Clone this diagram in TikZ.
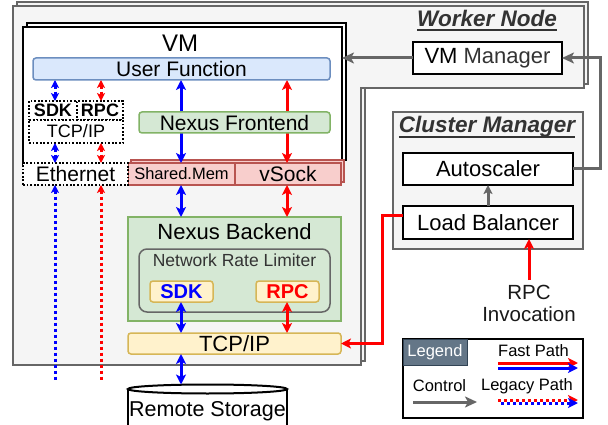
\documentclass[tikz,border=0pt]{standalone}
\usepackage{fontspec}
\setmainfont{Liberation Sans}
\usetikzlibrary{arrows.meta}
\definecolor{wfill}{HTML}{F5F5F5}
\definecolor{wline}{HTML}{666666}
\definecolor{dgray}{HTML}{333333}
\definecolor{ufill}{HTML}{DAE8FC}
\definecolor{uline}{HTML}{6C8EBF}
\definecolor{gfill}{HTML}{D5E8D4}
\definecolor{gline}{HTML}{82B366}
\definecolor{rfill}{HTML}{F8CECC}
\definecolor{rline}{HTML}{B85450}
\definecolor{yfill}{HTML}{FFF2CC}
\definecolor{yline}{HTML}{D6B656}
\definecolor{lgfill}{HTML}{647687}
\definecolor{lgline}{HTML}{314354}
\definecolor{fblue}{HTML}{0000FF}
\definecolor{fred}{HTML}{FF0000}
\newcommand{\fsz}[1]{\fontsize{#1}{#1}\selectfont}
\tikzset{
  base/.style={inner sep=0pt, outer sep=0pt, align=center},
  plainbox/.style={base, draw=black, line width=2pt, fill=white},
  ufbox/.style={base, draw=uline, fill=ufill, line width=1.5pt, rounded corners=3pt},
  gbox/.style={base, draw=gline, fill=gfill, line width=1.5pt, rounded corners=3pt},
  ybox/.style={base, draw=yline, fill=yfill, line width=1.5pt, rounded corners=3pt},
  rbox/.style={base, draw=rline, fill=rfill, line width=1.5pt},
  dotbox/.style={base, draw=black, fill=white, line width=1.8pt, dash pattern=on 1.8pt off 1.8pt},
  graybox/.style={base, draw=wline, fill=wfill, line width=1.5pt},
  fast/.style={line width=3pt, {Stealth[length=10pt,width=10pt,inset=2.5pt]}-{Stealth[length=10pt,width=10pt,inset=2.5pt]}},
  fastone/.style={line width=3pt, -{Stealth[length=10pt,width=10pt,inset=2.5pt]}},
  legacy/.style={line width=3pt, dash pattern=on 3pt off 3pt, {Stealth[length=8pt,width=8pt,inset=2pt]}-{Stealth[length=8pt,width=8pt,inset=2pt]}},
  legacyup/.style={line width=3pt, dash pattern=on 3pt off 3pt, {Stealth[length=8pt,width=8pt,inset=2pt]}-},
  ctrl/.style={line width=3pt, draw=wline, -{Stealth[length=12pt,width=11pt,inset=3pt]}},
  ttl/.style={base, font=\fsz{22.5}\bfseries\itshape, text=dgray},
}
\begin{document}
\begin{tikzpicture}[x=1pt,y=-1pt]
\useasboundingbox (0,0) rectangle (608,425);
% worker node
\draw[wline, fill=wfill, line width=1.5pt] (17,2) -- (588,2) -- (588,84) -- (365,84) -- (365,361) -- (17,361) -- cycle;
\draw[wline, fill=wfill, line width=1.5pt] (13,6) -- (584,6) -- (584,88) -- (361,88) -- (361,365) -- (13,365) -- cycle;
\node[ttl] (wn) at (487,18) {Worker Node};
\draw[dgray, line width=2pt] ([yshift=-4pt]wn.base west) -- ([yshift=-4pt]wn.base east);
% cluster manager
\node[graybox, minimum width=190pt, minimum height=137pt] (cm) at (488,180.5) {};
\node[ttl] (cmt) at (487,127) {Cluster Manager};
\draw[dgray, line width=2pt] ([yshift=-4pt]cmt.base west) -- ([yshift=-4pt]cmt.base east);
% VM
\draw[black, fill=white, line width=2pt] (27,23) rectangle (346,160);
\node[plainbox, minimum width=319pt, minimum height=137pt] (vm) at (182.5,95.5) {};
\node[base, font=\fsz{24}] (vml) at (180,43) {VM};
% columns
\coordinate (cb) at (181,0);
\coordinate (cr) at (287,0);
\coordinate (db) at (55,0);
\coordinate (dr) at (101,0);
% boxes inside VM
\node[ufbox, minimum width=297pt, minimum height=22pt, font=\fsz{21}] (uf) at (181.5,69) {User Function};
\node[dotbox, minimum width=48pt, minimum height=19pt, font=\fsz{18}\bfseries] (sdkd) at (53,110.5) {SDK};
\node[dotbox, minimum width=46pt, minimum height=19pt, font=\fsz{18}\bfseries] (rpcd) at (100,110.5) {RPC};
\node[dotbox, minimum width=94pt, minimum height=23pt, font=\fsz{18}] (tcpd) at (76,131.5) {TCP/IP};
% row
\draw[rline, fill=rfill, line width=1.5pt] (131,160) rectangle (344,182);
\node[rbox, minimum width=107pt, minimum height=22pt, font=\fsz{16.5}] (sm) at (181.5,174) {Shared.Mem};
\node[rbox, minimum width=106pt, minimum height=22pt, font=\fsz{21}] (vs) at (288,174) {vSock};
\node[dotbox, minimum width=105pt, minimum height=22pt, font=\fsz{21}] (eth) at (75.5,174) {Ethernet};
% arrows in VM (behind frontend)
\draw[fast, fblue] (uf.south -| cb) -- (sm.north -| cb);
\draw[fast, fred] (uf.south -| cr) -- (vs.north -| cr);
\node[gbox, minimum width=191pt, minimum height=21pt, font=\fsz{21}] (nf) at (234.5,122.5) {Nexus Frontend};
% legacy arrows
\draw[legacy, fblue] (uf.south -| db) -- (sdkd.north -| db);
\draw[legacy, fred] (uf.south -| dr) -- (rpcd.north -| dr);
\draw[legacy, fblue] (tcpd.south -| db) -- (eth.north -| db);
\draw[legacy, fred] (tcpd.south -| dr) -- (eth.north -| dr);
\coordinate (dbe) at (55,382);
\coordinate (dre) at (101,382);
\draw[legacyup, fblue] (eth.south -| db) -- (dbe);
\draw[legacyup, fred] (eth.south -| dr) -- (dre);
% backend
\node[base, draw=gline, fill=gfill, line width=1.5pt, minimum width=213pt, minimum height=104pt] (nb) at (234.5,269) {};
\node[base, font=\fsz{22}] (nbt) at (234.5,232) {Nexus Backend};
\node[base, draw=wline, line width=1.5pt, rounded corners=8pt, minimum width=191pt, minimum height=63pt] (nrl) at (234.5,280.5) {};
\node[base, font=\fsz{17.5}, text=dgray] (nrlt) at (234.5,260) {Network Rate Limiter};
\node[ybox, minimum width=63pt, minimum height=21pt, font=\fsz{20}\bfseries, text=fblue] (sdkb) at (181.5,291.5) {SDK};
\node[ybox, minimum width=63pt, minimum height=21pt, font=\fsz{20}\bfseries, text=fred] (rpcb) at (287.5,291.5) {RPC};
\node[ybox, minimum width=213pt, minimum height=21pt, font=\fsz{22}] (tcpb) at (234.5,343.5) {TCP/IP};
\draw[fast, fblue] (sm.south -| cb) -- (nb.north -| cb);
\draw[fast, fred] (vs.south -| cr) -- (nb.north -| cr);
\draw[fast, fblue] (sdkb.south -| cb) -- (tcpb.north -| cb);
\draw[fast, fred] (rpcb.south -| cr) -- (tcpb.north -| cr);
% remote storage
\begin{scope}
\clip (0,0) rectangle (608,425);
\draw[black, fill=white, line width=2pt] (128,389) -- (128,440) -- (287,440) -- (287,389);
\draw[black, fill=white, line width=2pt] (207.5,389) ellipse [x radius=79.5pt, y radius=4.5pt];
\end{scope}
\node[base, font=\fsz{21.5}] (rst) at (207.5,411) {Remote Storage};
\coordinate (rstop) at (181,384.5);
\draw[fast, fblue] (tcpb.south -| cb) -- (rstop);
% managers
\node[plainbox, minimum width=149pt, minimum height=32pt, font=\fsz{22}] (vmm) at (487.5,58) {VM {\color{dgray}Manager}};
\node[plainbox, minimum width=170pt, minimum height=32pt, font=\fsz{22}] (as) at (488,169) {Autoscaler};
\node[plainbox, minimum width=170pt, minimum height=33pt, font=\fsz{22}] (lb) at (488,222.5) {Load Balancer};
\draw[ctrl] (vmm.west) -- (vm.east |- vmm.west);
\coordinate (cr1) at (600,169);
\draw[ctrl] (as.east) -- (cr1) |- (vmm.east);
\draw[line width=3pt, draw=wline, -{Stealth[length=9pt,width=9pt,inset=2pt]}] (lb.north) -- (as.south);
\coordinate (lbc) at (382,215);
\draw[fastone, fred] (lb.west |- lbc) -- (lbc) |- (tcpb.east);
\coordinate (rpcs) at (529,280);
\draw[fastone, fred] (rpcs) -- (lb.south -| rpcs);
\node[base, font=\fsz{20.5}, text=black!90] (rpct) at (529,303.5) {RPC\\[1pt]Invocation};
% legend
\node[base, draw=black, fill=white, line width=2pt, minimum width=180pt, minimum height=79pt] (lg) at (493,378.5) {};
\node[base, draw=lgline, fill=lgfill, line width=1pt, minimum width=64pt, minimum height=26pt, font=\fsz{16.5}, text=white] (lgt) at (435,352) {Legend};
\node[base, font=\fsz{16.5}] (fp) at (533.5,351) {Fast Path};
\node[base, font=\fsz{16.5}] (ct) at (439.5,386) {Control};
\node[base, font=\fsz{16.5}] (lp) at (527,386) {Legacy Path};
\coordinate (f1) at (498,363);
\coordinate (f2) at (578,363);
\coordinate (f3) at (498,368);
\coordinate (f4) at (578,368);
\draw[fastone, fred] (f1) -- (f2);
\draw[fastone, fblue] (f3) -- (f4);
\coordinate (c1) at (413,402);
\coordinate (c2) at (477,402);
\draw[ctrl] (c1) -- (c2);
\coordinate (l1) at (498,400);
\coordinate (l2) at (578,400);
\coordinate (l3) at (498,403);
\coordinate (l4) at (578,403);
\draw[line width=3pt, fred, dash pattern=on 3pt off 3pt, -{Stealth[length=10pt,width=10pt,inset=2.5pt]}] (l1) -- (l2);
\draw[line width=3pt, fblue, dash pattern=on 3pt off 3pt, dash phase=3pt, -{Stealth[length=10pt,width=10pt,inset=2.5pt]}] (l3) -- (l4);
\end{tikzpicture}
\end{document}
